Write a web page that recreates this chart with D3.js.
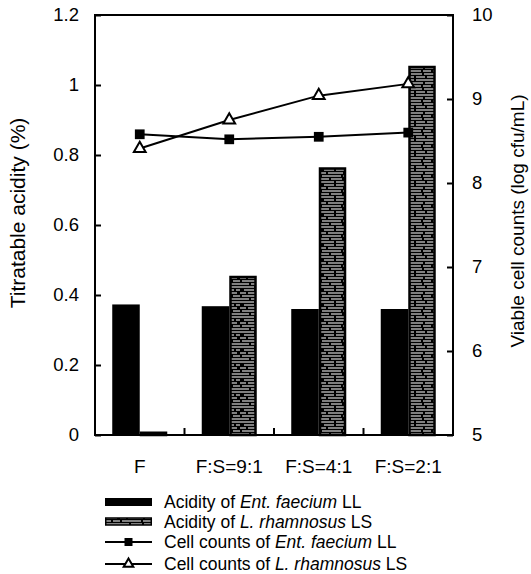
<!DOCTYPE html>
<html><head><meta charset="utf-8">
<script src="https://cdn.jsdelivr.net/npm/d3@7/dist/d3.min.js"></script>
<style>
body{margin:0;background:#fff;}
text{font-family:"Liberation Sans",Arial,sans-serif;fill:#000;}
</style></head>
<body><svg id="c" width="531" height="574"></svg>
<script>
const categories = ["F", "F:S=9:1", "F:S=4:1", "F:S=2:1"];
const acidityEnt = [0.373, 0.368, 0.360, 0.360];
const acidityLr = [0.010, 0.455, 0.765, 1.055];
const cellsEnt = [8.58, 8.52, 8.55, 8.60];
const cellsLr = [8.41, 8.75, 9.04, 9.18];
const leftTicks = [0, 0.2, 0.4, 0.6, 0.8, 1, 1.2];
const rightTicks = [5, 6, 7, 8, 9, 10];
const legendLabels = [
  ["Acidity of ", "Ent. faecium", " LL"],
  ["Acidity of ", "L. rhamnosus", " LS"],
  ["Cell counts of ", "Ent. faecium", " LL"],
  ["Cell counts of ", "L. rhamnosus", " LS"]
];

const svg = d3.select("#c");
const L = 95, R = 453, T = 15, B = 435;

// stripe pattern (irregular white dashes on black)
const defs = svg.append("defs");
const pat = defs.append("pattern").attr("id","stripe").attr("patternUnits","userSpaceOnUse")
  .attr("width", 40).attr("height", 15);
pat.append("rect").attr("width",40).attr("height",15).attr("fill","#000");
[[0,1.5,14],[16,1.5,9],[27,1.5,13],
 [4,4.5,10],[16,4.5,18],[36,4.5,4],
 [0,7.5,6],[8,7.5,15],[25,7.5,12],
 [2,10.5,19],[23,10.5,8],[33,10.5,7],
 [0,13.5,9],[11,13.5,11],[24,13.5,16]].forEach(([x,y,w])=>{
  pat.append("rect").attr("x",x).attr("y",y).attr("width",w).attr("height",1).attr("fill","#fff");
});

const x = d3.scaleBand().domain(categories).range([L, R]).paddingInner(0).paddingOuter(0);
const xs = d3.scaleBand().domain(["ent","lr"]).range([0, x.bandwidth()]).paddingInner(0).paddingOuter(0.627);
const yL = d3.scaleLinear().domain([0, 1.2]).range([B, T]);
const yR = d3.scaleLinear().domain([5, 10]).range([B, T]);

// bars
const g = svg.append("g");
categories.forEach((c, i) => {
  g.append("rect").attr("x", x(c) + xs("ent")).attr("width", xs.bandwidth())
    .attr("y", yL(acidityEnt[i])).attr("height", B - yL(acidityEnt[i])).attr("fill", "#000");
  g.append("rect").attr("x", x(c) + xs("lr") + 1.25).attr("width", xs.bandwidth() - 2.5)
    .attr("y", yL(acidityLr[i]) + 1.25).attr("height", Math.max(0, B - yL(acidityLr[i]) - 1.25))
    .attr("fill", "url(#stripe)").attr("stroke", "#000").attr("stroke-width", 2.5);
});

// axes
const fmt = d3.format("~g");
const axL = svg.append("g").attr("transform", `translate(${L},0)`)
  .call(d3.axisLeft(yL).tickValues(leftTicks).tickFormat(fmt).tickSizeInner(-6).tickSizeOuter(0).tickPadding(16));
const axR = svg.append("g").attr("transform", `translate(${R},0)`)
  .call(d3.axisRight(yR).tickValues(rightTicks).tickFormat(fmt).tickSizeInner(-6).tickSizeOuter(0).tickPadding(19));
const axB = svg.append("g").attr("transform", `translate(0,${B})`)
  .call(d3.axisBottom(x).tickSize(0).tickPadding(25));
[axL, axR, axB].forEach(a => {
  a.select(".domain").remove();
  a.selectAll("line").attr("stroke", "#000").attr("stroke-width", 2);
  a.selectAll("text").style("font-family", '"Liberation Sans",Arial,sans-serif').attr("fill", "#000");
});
axL.selectAll("text").style("font-size", "18.5px");
axR.selectAll("text").style("font-size", "18.5px");
axB.selectAll("text").style("font-size", "19px");

// bottom boundary ticks
svg.append("g").selectAll("line").data(categories.slice(1)).join("line")
  .attr("x1", d => x(d)).attr("x2", d => x(d)).attr("y1", B).attr("y2", B - 7)
  .attr("stroke", "#000").attr("stroke-width", 2);

// frame
svg.append("rect").attr("x", L).attr("y", T).attr("width", R - L).attr("height", B - T)
  .attr("fill", "none").attr("stroke", "#000").attr("stroke-width", 2);

// lines
const cx = d => x(d) + x.bandwidth() / 2;
const line = d3.line().x((d, i) => cx(categories[i])).y(d => yR(d));
svg.append("path").attr("d", line(cellsEnt)).attr("fill", "none").attr("stroke", "#000").attr("stroke-width", 2);
svg.append("path").attr("d", line(cellsLr)).attr("fill", "none").attr("stroke", "#000").attr("stroke-width", 2);
const sq = d3.symbol().type(d3.symbolSquare).size(95);
const tri = d3.symbol().type(d3.symbolTriangle).size(60);
svg.append("g").selectAll("path").data(cellsEnt).join("path")
  .attr("transform", (d, i) => `translate(${cx(categories[i])},${yR(d)})`).attr("d", sq).attr("fill", "#000");
svg.append("g").selectAll("path").data(cellsLr).join("path")
  .attr("transform", (d, i) => `translate(${cx(categories[i])},${yR(d)})`).attr("d", tri)
  .attr("fill", "#fff").attr("stroke", "#000").attr("stroke-width", 2);

// axis titles
svg.append("text").attr("transform", `translate(25,213) rotate(-90)`)
  .attr("text-anchor", "middle").style("font-size", "21px").text("Titratable acidity (%)");
svg.append("text").attr("transform", `translate(524,221) rotate(-90)`)
  .attr("text-anchor", "middle").style("font-size", "19px").text("Viable cell counts (log cfu/mL)");

// legend
const rows = [502, 521.5, 542, 564];
const lx0 = 105, lx1 = 152, tx = 164;
const lg = svg.append("g");
lg.append("rect").attr("x", lx0).attr("y", rows[0] - 4).attr("width", lx1 - lx0).attr("height", 8).attr("fill", "#000");
lg.append("rect").attr("x", lx0 + 0.75).attr("y", rows[1] - 3.5).attr("width", lx1 - lx0 - 1.5).attr("height", 7)
  .attr("fill", "url(#stripe)").attr("stroke", "#000").attr("stroke-width", 1.5);
[2, 3].forEach(k => {
  lg.append("line").attr("x1", lx0).attr("x2", lx1).attr("y1", rows[k]).attr("y2", rows[k]).attr("stroke", "#000").attr("stroke-width", 2);
});
lg.append("path").attr("transform", `translate(${(lx0 + lx1) / 2},${rows[2]})`).attr("d", d3.symbol().type(d3.symbolSquare).size(64)).attr("fill", "#000");
lg.append("path").attr("transform", `translate(${(lx0 + lx1) / 2},${rows[3]})`).attr("d", d3.symbol().type(d3.symbolTriangle).size(40))
  .attr("fill", "#fff").attr("stroke", "#000").attr("stroke-width", 2);
legendLabels.forEach((parts, k) => {
  const t = lg.append("text").attr("x", tx).attr("y", rows[k]).attr("dy", "0.36em").style("font-size", "17.5px");
  t.append("tspan").text(parts[0]);
  t.append("tspan").style("font-style", "italic").text(parts[1]);
  t.append("tspan").text(parts[2]);
});
</script></body></html>
